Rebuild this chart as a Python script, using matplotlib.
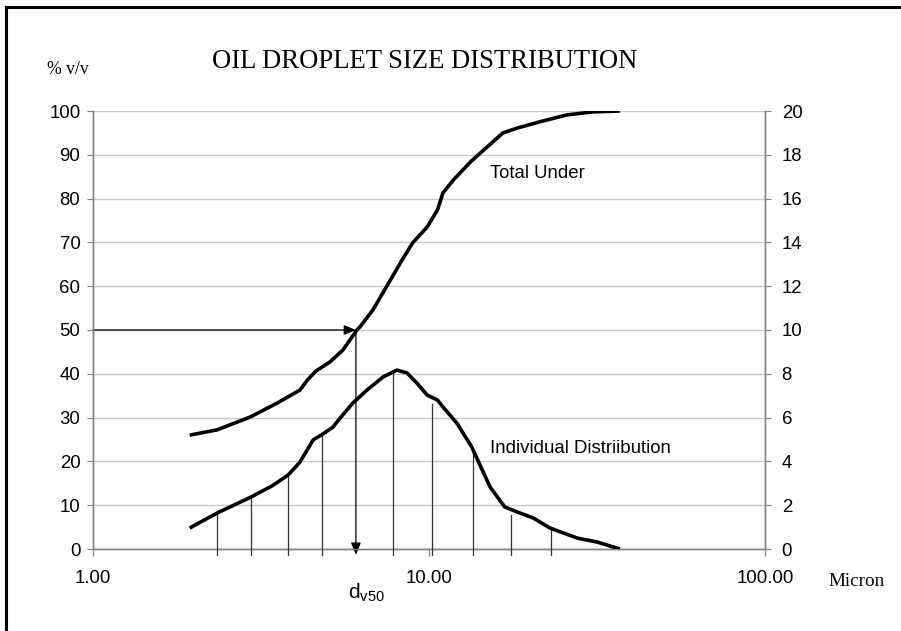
import numpy as np
import matplotlib.pyplot as plt
from matplotlib.ticker import FixedLocator, NullLocator, FormatStrFormatter

plt.rcParams['font.family'] = ['Liberation Sans', 'DejaVu Sans']
plt.rcParams['mathtext.fontset'] = 'custom'
plt.rcParams['mathtext.rm'] = 'Liberation Sans'
plt.rcParams['mathtext.it'] = 'Liberation Sans'

# cumulative % under size (left axis)
total_size = [1.94, 2.34, 2.93, 3.53, 4.13, 4.35, 4.60, 5.07, 5.54, 6.10, 6.23, 6.81,
              7.28, 7.77, 8.32, 8.94, 9.87, 10.6, 11.0, 11.8, 13.3, 14.9, 16.6, 18.3,
              21.3, 25.7, 30.7, 37.0]
total_under = [26.0, 27.2, 30.1, 33.3, 36.3, 38.6, 40.6, 42.7, 45.4, 50.0, 50.7, 54.6,
               58.4, 62.1, 66.0, 69.9, 73.5, 77.4, 81.3, 84.2, 88.4, 91.8, 95.0, 96.1,
               97.5, 99.1, 99.8, 100.0]

# individual distribution (right axis)
ind_size = [1.94, 2.34, 2.95, 3.41, 3.81, 4.13, 4.52, 4.83, 5.18, 5.44, 5.94, 6.54,
            7.29, 8.03, 8.6, 9.2, 9.87, 10.6, 11.0, 12.1, 13.4, 15.2, 16.8, 18.3,
            20.4, 22.9, 27.6, 31.6, 37.0]
ind_value = [0.96, 1.64, 2.37, 2.88, 3.38, 3.97, 4.98, 5.25, 5.57, 5.98, 6.67, 7.26,
             7.85, 8.17, 8.04, 7.58, 7.03, 6.8, 6.49, 5.75, 4.66, 2.83, 1.92, 1.69,
             1.42, 0.96, 0.5, 0.32, 0.0]

# drop lines
drop_size = [2.34, 2.95, 3.81, 4.80, 7.80, 10.2, 13.5, 17.5, 23.1]
drop_top = [1.64, 2.37, 3.38, 5.2, 8.17, 6.62, 4.38, 1.55, 0.87]

dv50 = 6.06

fig = plt.figure(figsize=(9.01, 6.31), dpi=100)
ax = fig.add_axes([93/901, 1-549/631, 672/901, 438/631])
ax2 = ax.twinx()

grid_c = '#c8c8c8'
spine_c = '#808080'

ax.set_xscale('log')
ax.set_xlim(1, 100)
ax.set_ylim(0, 100)
ax2.set_ylim(0, 20)

ax.xaxis.set_major_locator(FixedLocator([1, 10, 100]))
ax.xaxis.set_minor_locator(NullLocator())
ax.xaxis.set_major_formatter(FormatStrFormatter('%.2f'))
ax.set_yticks(np.arange(0, 101, 10))
ax2.set_yticks(np.arange(0, 21, 2))

for a in (ax, ax2):
    for s in a.spines.values():
        s.set_color(spine_c)
        s.set_linewidth(1)
    a.spines['top'].set_visible(False)
ax.yaxis.grid(True, color=grid_c, linewidth=1)
ax.set_axisbelow(True)

ax.tick_params(axis='y', length=4, color=spine_c, labelsize=13.4, pad=5)
ax.tick_params(axis='x', length=5, color=spine_c, labelsize=13.4, pad=10)
ax2.tick_params(axis='y', length=4, color=spine_c, labelsize=13.4, pad=8)

# curves
ax.plot(total_size, total_under, color='black', linewidth=2.6,
        solid_capstyle='butt', solid_joinstyle='round', zorder=5)
ax2.plot(ind_size, ind_value, color='black', linewidth=2.6,
         solid_capstyle='butt', solid_joinstyle='round', zorder=5)

for xs, top in zip(drop_size, drop_top):
    ax2.plot([xs, xs], [-0.28, top], color='#333333', linewidth=0.9,
             clip_on=False, zorder=3)

# d_v50 arrows
head = '-|>,head_length=0.6,head_width=0.25'
ax.annotate('', xy=(dv50, 50), xytext=(1, 50),
            arrowprops=dict(arrowstyle=head, color='black', lw=0.9,
                            mutation_scale=12, shrinkA=0, shrinkB=0), zorder=4)
ax.annotate('', xy=(dv50, -1.3), xytext=(dv50, 50),
            arrowprops=dict(arrowstyle=head, color='black', lw=0.9,
                            mutation_scale=12, shrinkA=0, shrinkB=0),
            annotation_clip=False, zorder=4)

ax.text(5.74, -10, r'd$_{\mathrm{v50}}$', ha='left', va='center', fontsize=15)

ax.text(15.2, 85.8, 'Total Under', fontsize=13.4, ha='left', va='center')
ax2.text(15.2, 4.61, 'Individual Distriibution', fontsize=13.4, ha='left', va='center')

fig.text(425/901, 1-62/631, 'OIL DROPLET SIZE DISTRIBUTION', fontsize=19.2,
         family='Liberation Serif', ha='center', va='center')
fig.text(47/901, 1-70/631, '% v/v', fontsize=12.7, family='Liberation Serif',
         ha='left', va='center')
fig.text(828/901, 1-582/631, 'Micron', fontsize=13.8, family='Liberation Serif',
         ha='left', va='center')

# outer frame (top and left edges)
fig.add_artist(plt.Line2D([6/901, 1], [1-7/631, 1-7/631], color='black', linewidth=2.2,
                          transform=fig.transFigure))
fig.add_artist(plt.Line2D([6/901, 6/901], [0, 1-7/631], color='black', linewidth=2.2,
                          transform=fig.transFigure))

fig.savefig('out.png', dpi=100)
